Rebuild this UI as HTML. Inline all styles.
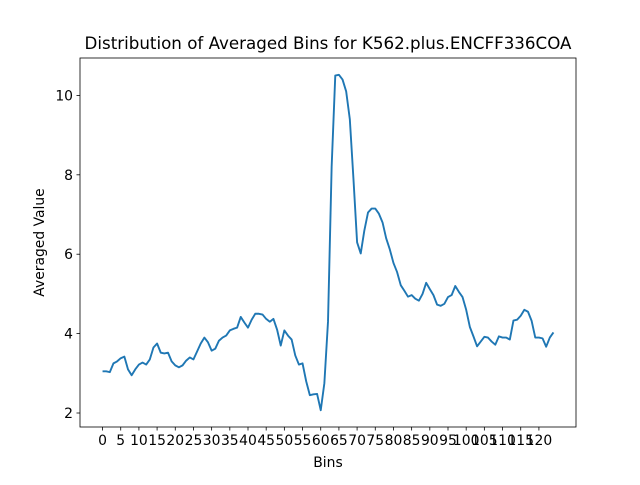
<!DOCTYPE html>
<html><head><meta charset="utf-8"><style>
body{margin:0;background:#fff;}
svg text{font-family:"DejaVu Sans","Liberation Sans",sans-serif;fill:#000;}
</style></head><body>
<svg id="chart" width="640" height="480" xmlns="http://www.w3.org/2000/svg">
<rect width="640" height="480" fill="#fff"/>
<text x="328" y="49" font-size="16.7" text-anchor="middle">Distribution of Averaged Bins for K562.plus.ENCFF336COA</text>
<text x="328" y="467" font-size="13.9" text-anchor="middle">Bins</text>
<text x="0" y="0" font-size="13.9" text-anchor="middle" transform="translate(44,242.5) rotate(-90)">Averaged Value</text>
<g id="xticks"></g><g id="yticks"></g>
<path id="line" fill="none" stroke="#1f77b4" stroke-width="1.9" stroke-linejoin="round"/>
<rect x="80" y="58" width="496" height="369" fill="none" stroke="#000" stroke-width="0.8"/>
</svg>
<script>
const values=[3.05,3.05,3.03,3.25,3.3,3.38,3.42,3.1,2.95,3.1,3.22,3.27,3.22,3.35,3.65,3.75,3.52,3.5,3.52,3.3,3.2,3.15,3.2,3.32,3.4,3.35,3.55,3.75,3.9,3.78,3.57,3.62,3.82,3.9,3.95,4.08,4.12,4.15,4.42,4.28,4.15,4.35,4.5,4.5,4.48,4.37,4.3,4.37,4.1,3.7,4.08,3.95,3.85,3.45,3.22,3.25,2.8,2.45,2.47,2.48,2.07,2.75,4.3,8.2,10.5,10.52,10.4,10.1,9.4,7.9,6.3,6.02,6.6,7.05,7.15,7.15,7.02,6.8,6.4,6.12,5.78,5.55,5.22,5.08,4.93,4.97,4.88,4.83,5.0,5.28,5.12,4.97,4.73,4.7,4.75,4.92,4.97,5.2,5.05,4.92,4.6,4.17,3.93,3.68,3.8,3.92,3.9,3.8,3.72,3.93,3.9,3.9,3.85,4.33,4.35,4.45,4.6,4.55,4.32,3.9,3.9,3.88,3.67,3.9,4.03];
const xTicks=[0,5,10,15,20,25,30,35,40,45,50,55,60,65,70,75,80,85,90,95,100,105,110,115,120];
const yTicks=[2,4,6,8,10];
const L=80,R=576,T=58,B=427;
const n=values.length;
const xmin=-(n-1)*0.05,xmax=(n-1)*1.05;
const vmin=Math.min(...values),vmax=Math.max(...values),pad=(vmax-vmin)*0.05;
const ymin=vmin-pad,ymax=vmax+pad;
const X=v=>L+(v-xmin)/(xmax-xmin)*(R-L);
const Y=v=>B-(v-ymin)/(ymax-ymin)*(B-T);
const NS="http://www.w3.org/2000/svg";
document.getElementById('line').setAttribute('d',values.map((v,i)=>(i?'L':'M')+X(i).toFixed(2)+','+Y(v).toFixed(2)).join(''));
const xg=document.getElementById('xticks');
xTicks.forEach(t=>{
 const l=document.createElementNS(NS,'line');
 
 
 l.setAttribute('x1',X(t));l.setAttribute('x2',X(t));l.setAttribute('y1',B);l.setAttribute('y2',B+3.5);l.setAttribute('stroke','#000');l.setAttribute('stroke-width','0.8');xg.appendChild(l);
 const s=document.createElementNS(NS,'text');
 
 
 s.setAttribute('x',X(t));s.setAttribute('y',B+18);s.setAttribute('font-size','13.9');s.setAttribute('text-anchor','middle');s.textContent=t;xg.appendChild(s);
});
const yg=document.getElementById('yticks');
yTicks.forEach(t=>{
 const l=document.createElementNS(NS,'line');
 
 
 l.setAttribute('x1',L-3.5);l.setAttribute('x2',L);l.setAttribute('y1',Y(t));l.setAttribute('y2',Y(t));l.setAttribute('stroke','#000');l.setAttribute('stroke-width','0.8');yg.appendChild(l);
 const s=document.createElementNS(NS,'text');
 
 
 s.setAttribute('x',L-7);s.setAttribute('y',Y(t)+5);s.setAttribute('font-size','13.9');s.setAttribute('text-anchor','end');s.textContent=t;yg.appendChild(s);
});
</script>
</body></html>
